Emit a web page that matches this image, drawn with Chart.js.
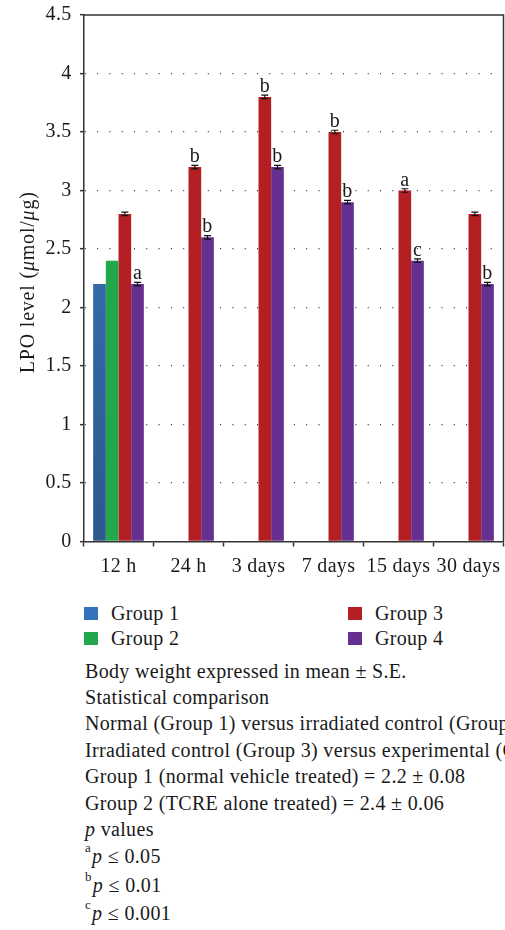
<!DOCTYPE html>
<html lang="en">
<head>
  <meta charset="UTF-8">
  <title>LPO level</title>
  <script src="https://cdn.jsdelivr.net/npm/chart.js@4.4.0/dist/chart.umd.min.js"></script>
  <style>
    body { margin: 0; width: 505px; height: 930px; overflow: hidden; background: #fff;
           font-family: "Liberation Serif", "DejaVu Serif", serif; color: #1a1a1a; position: relative; }
    #wrap { position: absolute; left: 0; top: 0; width: 505px; height: 595px; }
    .leg { position: absolute; font-size: 20px; line-height: 20px; white-space: nowrap; letter-spacing: 0.3px; }
    .leg span.box { position: absolute; left: 0; top: 3.75px; width: 14px; height: 13px; }
    .leg span.txt { position: absolute; left: 27px; top: 0; }
    .line { position: absolute; left: 85px; font-size: 20px; line-height: 26px; white-space: nowrap; letter-spacing: 0.33px; }
    .sup { font-size: 13px; position: relative; top: -11px; margin-right: 1px; }
  </style>
</head>
<body>
  <div id="wrap"><canvas id="chart" width="505" height="595"></canvas></div>
  <div id="legend"></div>
  <div id="notes">
    <div class="line" style="top:658px">Body weight expressed in mean ± S.E.</div>
    <div class="line" style="top:684px">Statistical comparison</div>
    <div class="line" style="top:710px">Normal (Group 1) versus irradiated control (Group 3)</div>
    <div class="line" style="top:737px">Irradiated control (Group 3) versus experimental (Group 4)</div>
    <div class="line" style="top:763px">Group 1 (normal vehicle treated) = 2.2 ± 0.08</div>
    <div class="line" style="top:790px">Group 2 (TCRE alone treated) = 2.4 ± 0.06</div>
    <div class="line" style="top:816px"><i>p</i> values</div>
    <div class="line" style="top:843px"><span class="sup">a</span><i>p</i> ≤ 0.05</div>
    <div class="line" style="top:872px"><span class="sup">b</span><i>p</i> ≤ 0.01</div>
    <div class="line" style="top:900px"><span class="sup">c</span><i>p</i> ≤ 0.001</div>
  </div>
  <script>

const categories = ['12 h', '24 h', '3 days', '7 days', '15 days', '30 days'];
const group1 = [2.2, null, null, null, null, null];
const group2 = [2.4, null, null, null, null, null];
const group3 = [2.8, 3.2, 3.8, 3.5, 3.0, 2.8];
const group4 = [2.2, 2.6, 3.2, 2.9, 2.4, 2.2];
const err3 = [0.015, 0.015, 0.015, 0.015, 0.015, 0.015];
const err4 = [0.015, 0.015, 0.015, 0.015, 0.015, 0.015];
const sig3 = ['', 'b', 'b', 'b', 'a', ''];
const sig4 = ['a', 'b', 'b', 'b', 'c', 'b'];
const groupNames = ['Group 1', 'Group 2', 'Group 3', 'Group 4'];
const groupColors = ['#3473bb', '#22a84b', '#b41f24', '#663090'];
// y title pieces: [text, italic]
const yTitle = [['LPO level (', false], ['μ', true], ['mol/', false], ['μ', true], ['g)', false]];

const serif = '"Liberation Serif", "DejaVu Serif", serif';

function blueFill(context) {
  const chart = context.chart;
  const area = chart.chartArea;
  if (!area) return groupColors[0];
  const g = chart.ctx.createLinearGradient(0, area.top, 0, area.bottom);
  g.addColorStop(0, '#3b7dc6');
  g.addColorStop(1, '#2c588c');
  return g;
}

const extras = {
  id: 'extras',
  beforeDraw(chart) {
    chart.ctx.letterSpacing = '0.3px';
  },
  afterDatasetsDraw(chart) {
    const ctx = chart.ctx;
    const y = chart.scales.y;
    const sets = [[2, err3, sig3], [3, err4, sig4]];
    ctx.save();
    sets.forEach(([di, errs, sigs]) => {
      const meta = chart.getDatasetMeta(di);
      const vals = chart.data.datasets[di].data;
      meta.data.forEach((bar, i) => {
        if (vals[i] == null) return;
        const top = y.getPixelForValue(vals[i] + errs[i]);
        const bot = y.getPixelForValue(vals[i] - errs[i]);
        ctx.strokeStyle = '#111';
        ctx.lineWidth = 1.2;
        ctx.beginPath();
        ctx.moveTo(bar.x, top); ctx.lineTo(bar.x, bot);
        ctx.moveTo(bar.x - 3.5, top); ctx.lineTo(bar.x + 3.5, top);
        ctx.moveTo(bar.x - 3.5, bot); ctx.lineTo(bar.x + 3.5, bot);
        ctx.stroke();
        if (sigs[i]) {
          ctx.fillStyle = '#1a1a1a';
          ctx.font = '20px ' + serif;
          ctx.textAlign = 'center';
          ctx.textBaseline = 'alphabetic';
          ctx.fillText(sigs[i], bar.x, y.getPixelForValue(vals[i]) - 5);
        }
      });
    });
    // frame (top and right)
    const a = chart.chartArea;
    ctx.strokeStyle = '#333';
    ctx.lineWidth = 1.5;
    ctx.beginPath();
    ctx.moveTo(a.left, a.top); ctx.lineTo(a.right, a.top); ctx.lineTo(a.right, a.bottom);
    ctx.stroke();

    // y axis title with italic mu
    ctx.letterSpacing = '0.8px';
    ctx.fillStyle = '#1a1a1a';
    ctx.textAlign = 'left';
    ctx.textBaseline = 'alphabetic';
    let total = 0;
    yTitle.forEach(([t, it]) => {
      ctx.font = (it ? 'italic ' : '') + '20px ' + serif;
      total += ctx.measureText(t).width;
    });
    ctx.translate(33.5, (a.top + a.bottom) / 2 + 4);
    ctx.rotate(-Math.PI / 2);
    let pos = -total / 2;
    yTitle.forEach(([t, it]) => {
      ctx.font = (it ? 'italic ' : '') + '20px ' + serif;
      ctx.fillText(t, pos, 0);
      pos += ctx.measureText(t).width;
    });
    ctx.restore();
  }
};

const ctx = document.getElementById('chart').getContext('2d');
const myChart = new Chart(ctx, {
  type: 'bar',
  data: {
    labels: categories,
    datasets: [
      { label: groupNames[0], data: group1, backgroundColor: blueFill },
      { label: groupNames[1], data: group2, backgroundColor: groupColors[1] },
      { label: groupNames[2], data: group3, backgroundColor: groupColors[2] },
      { label: groupNames[3], data: group4, backgroundColor: groupColors[3] }
    ]
  },
  options: {
    responsive: false,
    animation: false,
    layout: { padding: { top: 15, right: 1.5, left: 0, bottom: 0 } },
    datasets: { bar: { categoryPercentage: 0.724, barPercentage: 1.0, borderWidth: 0 } },
    plugins: { legend: { display: false }, tooltip: { enabled: false } },
    scales: {
      x: {
        grid: { display: true, drawOnChartArea: false, offset: true, tickLength: 5, tickColor: '#333', tickWidth: 1.5 },
        border: { color: '#333', width: 1.5 },
        ticks: { color: '#1a1a1a', font: { family: serif, size: 20 }, padding: 8, maxRotation: 0, autoSkip: false },
        afterFit(scale) { scale.height = 53.5; scale.paddingLeft = 0; scale.paddingRight = 0; }
      },
      y: {
        min: 0, max: 4.5,
        grid: {
          color: (c) => (c.tick && (c.tick.value === 0 || c.tick.value === 4.5)) ? 'rgba(0,0,0,0)' : '#333',
          lineWidth: 1.3,
          tickLength: 3.5, tickColor: '#333', tickWidth: 1.5, tickBorderDash: []
        },
        border: { color: '#333', width: 1.5, dash: [1, 11.3], dashOffset: -0.3 },
        ticks: { stepSize: 0.5, color: '#1a1a1a', font: { family: serif, size: 20 }, padding: 8.5,
                 callback: (v) => String(v) },
        title: { display: false },
        afterFit(scale) { scale.width = 83.5; scale.paddingTop = 0; scale.paddingBottom = 0; }
      }
    }
  },
  plugins: [extras]
});

// two-column legend built from the chart's datasets
const legend = document.getElementById('legend');
const legendPos = [[84, 603], [84, 628], [348, 603], [348, 628]];
myChart.data.datasets.forEach((ds, i) => {
  const d = document.createElement('div');
  d.className = 'leg';
  d.style.left = legendPos[i][0] + 'px';
  d.style.top = legendPos[i][1] + 'px';
  d.innerHTML = '<span class="box" style="background:' + groupColors[i] + '"></span><span class="txt">' + ds.label + '</span>';
  legend.appendChild(d);
});
  </script>
</body>
</html>
